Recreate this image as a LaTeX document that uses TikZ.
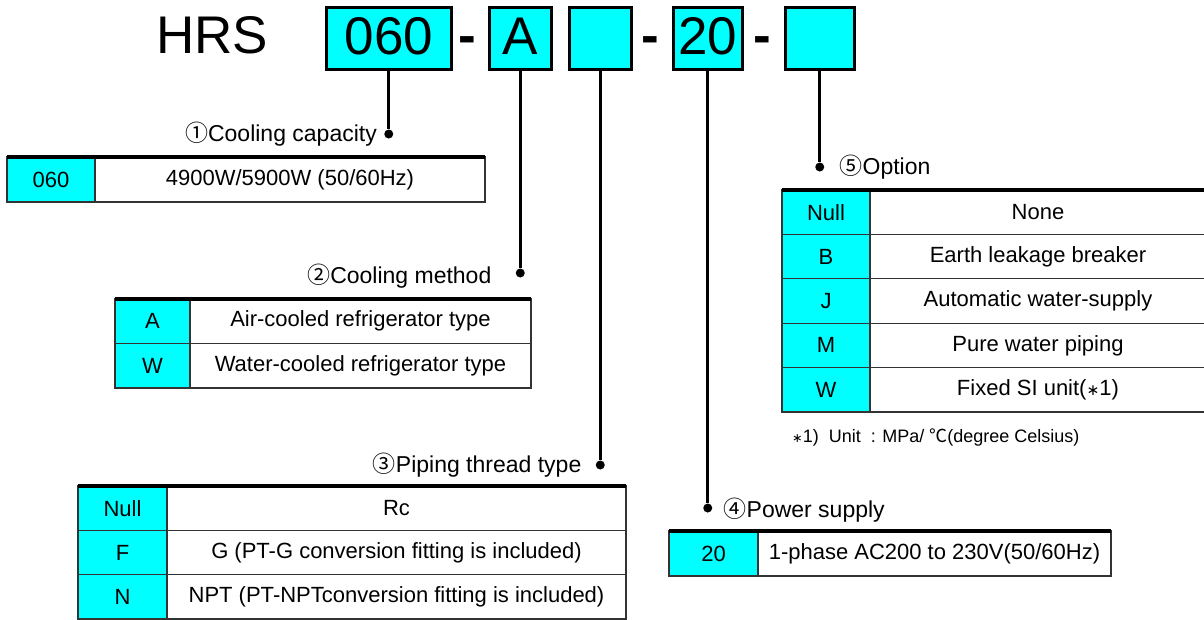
\documentclass[tikz,border=0pt]{standalone}
\usepackage{fontspec}
\setmainfont{Liberation Sans}
\newfontfamily\cjk{Noto Sans CJK JP}
\newfontfamily\dvs{DejaVu Sans}
\usetikzlibrary{positioning}
\definecolor{aqua}{RGB}{0,255,255}
\newcommand{\smallast}{{\dvs\scalebox{0.7}{∗}}}

\begin{document}
\begin{tikzpicture}[
  x=1pt, y=-1pt,
  codebox/.style={draw, line width=2.5pt, fill=aqua, minimum height=62pt, inner sep=0pt,
    anchor=north west, text height=38pt, text depth=6pt, font=\fontsize{53}{60}\selectfont},
  sep/.style={anchor=base, inner sep=0pt, font=\fontsize{53}{60}\selectfont\bfseries},
  wire/.style={line width=2.6pt},
  dot/.style={circle, fill, inner sep=0pt, minimum size=9pt},
  title/.style={inner sep=0pt, font=\fontsize{23}{27}\selectfont},
  key/.style={draw=black!80, line width=1.2pt, fill=aqua, inner sep=0pt, outer sep=0pt,
    font=\fontsize{22}{26}\selectfont},
  val/.style={key, fill=white},
  topline/.style={line width=4pt}
]
\useasboundingbox (0,0) rectangle (1204,619);

% Model code
\node[anchor=base west, inner sep=0pt, font=\fontsize{53}{60}\selectfont] (hrs) at (156,53) {HRS};
\node[codebox, minimum width=125pt] (b1) at (325,6) {060};
\node[sep] (s1) at (467,53) {-};
\node[codebox, minimum width=62pt] (b2) at (488,6) {A};
\node[codebox, minimum width=62pt] (b3) at (568,6) {};
\node[sep] (s2) at (650,53) {-};
\node[codebox, minimum width=69pt] (b4) at (672,6) {20};
\node[sep] (s3) at (762,53) {-};
\node[codebox, minimum width=69pt] (b5) at (784,6) {};

% Leaders
\node[dot] (d1) at (b1.south |- 0,134) {};
\node[dot] (d2) at (b2.south |- 0,273) {};
\node[dot] (d3) at (b3.south |- 0,465) {};
\node[dot] (d4) at (b4.south |- 0,508) {};
\node[dot] (d5) at (b5.south |- 0,167) {};
\draw[wire] (b1) -- (d1);
\draw[wire] (b2) -- (d2);
\draw[wire] (b3) -- (d3);
\draw[wire] (b4) -- (d4);
\draw[wire] (b5) -- (d5);

\node[title, left=7pt of d1] (l1) {{\cjk ①}Cooling capacity};
\node[title, left=24pt of d2, yshift=-3pt] (l2) {{\cjk ②}Cooling method};
\node[title, left=14pt of d3] (l3) {{\cjk ③}Piping thread type};
\node[title, right=11pt of d4, yshift=-2pt] (l4) {{\cjk ④}Power supply};
\node[title, right=15pt of d5] (l5) {{\cjk ⑤}Option};

% 1 Cooling capacity
\node[key, minimum width=88pt, minimum height=45pt, anchor=north west] (k1) at (7,157) {060};
\node[val, minimum width=390pt, minimum height=45pt, right=0pt of k1] (v1) {4900W/5900W (50/60Hz)};
\draw[topline] (k1.north west) -- (v1.north east);

% 2 Cooling method
\node[key, minimum width=75pt, minimum height=44.5pt, anchor=north west] (k2a) at (115,299) {A};
\node[val, minimum width=341pt, minimum height=44.5pt, right=0pt of k2a] (v2a) {Air-cooled refrigerator type};
\node[key, minimum width=75pt, minimum height=44.5pt, below=0pt of k2a] (k2b) {W};
\node[val, minimum width=341pt, minimum height=44.5pt, right=0pt of k2b] (v2b) {Water-cooled refrigerator type};
\draw[topline] (k2a.north west) -- (v2a.north east);

% 3 Piping thread type
\node[key, minimum width=89pt, minimum height=44.3pt, anchor=north west] (k3a) at (78,486) {Null};
\node[val, minimum width=459pt, minimum height=44.3pt, right=0pt of k3a] (v3a) {Rc};
\node[key, minimum width=89pt, minimum height=44.3pt, below=0pt of k3a] (k3b) {F};
\node[val, minimum width=459pt, minimum height=44.3pt, right=0pt of k3b] (v3b) {G (PT-G conversion fitting is included)};
\node[key, minimum width=89pt, minimum height=44.3pt, below=0pt of k3b] (k3c) {N};
\node[val, minimum width=459pt, minimum height=44.3pt, right=0pt of k3c] (v3c) {NPT (PT-NPTconversion fitting is included)};
\draw[topline] (k3a.north west) -- (v3a.north east);

% 4 Power supply
\node[key, minimum width=89pt, minimum height=45pt, anchor=north west] (k4) at (669,531) {20};
\node[val, minimum width=353pt, minimum height=45pt, right=0pt of k4] (v4) {1-phase AC200 to 230V(50/60Hz)};
\draw[topline] (k4.north west) -- (v4.north east);

% 5 Option
\node[key, minimum width=88pt, minimum height=44.4pt, anchor=north west] (k5a) at (782,190) {Null};
\node[val, minimum width=336pt, minimum height=44.4pt, right=0pt of k5a] (v5a) {None};
\node[key, minimum width=88pt, minimum height=44.4pt, below=0pt of k5a] (k5b) {B};
\node[val, minimum width=336pt, minimum height=44.4pt, right=0pt of k5b] (v5b) {Earth leakage breaker};
\node[key, minimum width=88pt, minimum height=44.4pt, below=0pt of k5b] (k5c) {J};
\node[val, minimum width=336pt, minimum height=44.4pt, right=0pt of k5c] (v5c) {Automatic water-supply};
\node[key, minimum width=88pt, minimum height=44.4pt, below=0pt of k5c] (k5d) {M};
\node[val, minimum width=336pt, minimum height=44.4pt, right=0pt of k5d] (v5d) {Pure water piping};
\node[key, minimum width=88pt, minimum height=44.4pt, below=0pt of k5d] (k5e) {W};
\node[val, minimum width=336pt, minimum height=44.4pt, right=0pt of k5e] (v5e) {Fixed SI unit(\smallast1)};
\draw[topline] (k5a.north west) -- (v5a.north east);

\node[anchor=west, inner sep=0pt, font=\fontsize{18}{21}\selectfont] (note) at (792,437)
  {\smallast1)~~Unit~~: MPa/~{\cjk ℃}(degree Celsius)};
\end{tikzpicture}
\end{document}
